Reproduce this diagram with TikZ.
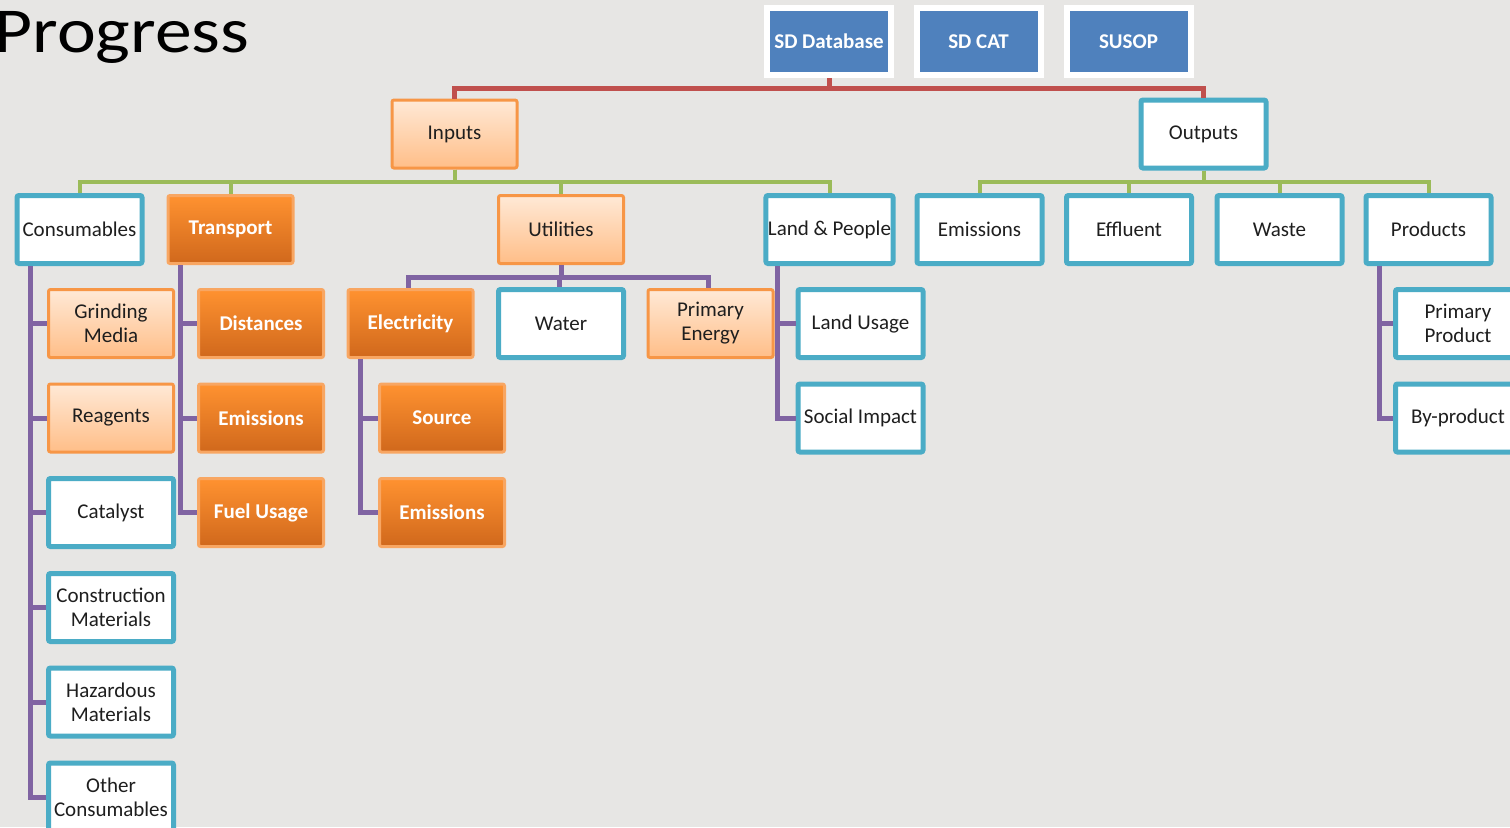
\documentclass[tikz,border=0pt]{standalone}
\usepackage{fontspec}
\setmainfont{Carlito}
\usetikzlibrary{positioning}

\definecolor{bgGray}{RGB}{231,230,228}
\definecolor{aquaLine}{RGB}{75,172,198}
\definecolor{orangeLine}{RGB}{247,150,70}
\definecolor{peachTop}{RGB}{255,233,214}
\definecolor{peachBot}{RGB}{255,190,136}
\definecolor{darkTop}{RGB}{255,146,48}
\definecolor{darkBot}{RGB}{208,104,28}
\definecolor{blueFill}{RGB}{79,129,189}
\definecolor{redLine}{RGB}{192,80,77}
\definecolor{greenLine}{RGB}{155,187,89}
\definecolor{purpleLine}{RGB}{128,100,162}
\definecolor{boxText}{RGB}{30,30,30}

\tikzset{
  box/.style={minimum width=62.5pt, minimum height=34pt, inner sep=1pt, align=center,
    font=\fontsize{10.5}{12}\selectfont, text=boxText, rounded corners=1pt},
  aquabox/.style={box, draw=aquaLine, line width=2.5pt, fill=white},
  peachbox/.style={box, draw=orangeLine, line width=1.5pt, top color=peachTop, bottom color=peachBot},
  darkbox/.style={box, draw=orangeLine!85!white, line width=1.5pt, top color=darkTop, bottom color=darkBot,
    text=white, font=\fontsize{10.5}{12}\selectfont\bfseries},
  topbox/.style={box, minimum width=62pt, minimum height=33.5pt, draw=white, line width=3pt,
    fill=blueFill, text=white, font=\fontsize{10.5}{12}\selectfont\bfseries, rounded corners=0pt},
  redline/.style={draw=redLine, line width=2.5pt},
  greenline/.style={draw=greenLine, line width=2pt},
  purpleline/.style={draw=purpleLine, line width=2.5pt}
}

\begin{document}
\begin{tikzpicture}[x=0.5pt,y=-0.5pt]
                \useasboundingbox (0,0) rectangle (1510,827);
                \clip (0,0) rectangle (1510,827);
                \fill[bgGray] (0,0) rectangle (1510,827);

                %Title
                \node[anchor=base west, inner sep=0, xscale=1.15, transform shape,
                      font=\fontsize{32}{34}\selectfont] at (-6,52) (TTL) {Progress};

                %Nodes
                \node[topbox] at (829,41.5)    (SDD)  {SD Database};
                \node[topbox] at (978.5,41.5)  (SDC)  {SD CAT};
                \node[topbox] at (1128.5,41.5) (SUS)  {SUSOP};

                \node[peachbox] at (454.5,134)  (IN)  {Inputs};
                \node[aquabox]  at (1203.5,134) (OUT) {Outputs};

                \node[aquabox]  at (79.5,229.5)   (CON) {Consumables};
                \node[darkbox]  at (230.5,229.5)  (TRA) {Transport};
                \node[peachbox] at (561,229.5)    (UTI) {Utilities};
                \node[aquabox]  at (829.5,229.5)  (LAP) {Land \& People};
                \node[aquabox]  at (979.5,229.5)  (EMI) {Emissions};
                \node[aquabox]  at (1129,229.5)   (EFF) {Effluent};
                \node[aquabox]  at (1279.5,229.5) (WAS) {Waste};
                \node[aquabox]  at (1428.5,229.5) (PRO) {Products};

                \node[peachbox] at (111,323.5)   (GM)  {Grinding\\Media};
                \node[darkbox]  at (261,323.5)   (DIS) {Distances};
                \node[darkbox]  at (410.5,323.5) (ELE) {Electricity};
                \node[aquabox]  at (561,323.5)   (WAT) {Water};
                \node[peachbox] at (710.5,323.5) (PE)  {Primary\\Energy};
                \node[aquabox]  at (860.5,323.5) (LU)  {Land Usage};
                \node[aquabox]  at (1458,323.5)  (PP)  {Primary\\Product};

                \node[peachbox] at (111,418)   (REA) {Reagents};
                \node[darkbox]  at (261,418)   (TEM) {Emissions};
                \node[darkbox]  at (442,418)   (SRC) {Source};
                \node[aquabox]  at (860.5,418) (SI)  {Social Impact};
                \node[aquabox]  at (1458,418)  (BP)  {By-product};

                \node[aquabox] at (111,512.5) (CATA) {Catalyst};
                \node[darkbox] at (261,512.5) (FU)   {Fuel Usage};
                \node[darkbox] at (442,512.5) (EEM)  {Emissions};

                \node[aquabox] at (111,607.5) (CM) {Construction\\Materials};
                \node[aquabox] at (111,702)   (HM) {Hazardous\\Materials};
                \node[aquabox] at (111,797)   (OC) {Other\\Consumables};

                %Lines
                \draw[redline] (SDD.south) -- ++(0,10) -| (IN.north);
                \draw[redline] (SDD.south) -- ++(0,10) -| (OUT.north);

                \foreach \k in {CON,TRA,UTI,LAP}
                    \draw[greenline] (IN.south) -- ++(0,12.5) -| (\k.north);
                \foreach \k in {EMI,EFF,WAS,PRO}
                    \draw[greenline] (OUT.south) -- ++(0,11) -| (\k.north);

                \foreach \k in {ELE,WAT,PE}
                    \draw[purpleline] (UTI.south) -- ++(0,12) -| ([xshift=-1pt]\k.north);

                \foreach \k in {GM,REA,CATA,CM,HM,OC}
                    \draw[purpleline] ([xshift=8pt]CON.south west) |- (\k.west);
                \foreach \k in {DIS,TEM,FU}
                    \draw[purpleline] ([xshift=7pt]TRA.south west) |- (\k.west);
                \foreach \k in {SRC,EEM}
                    \draw[purpleline] ([xshift=7pt]ELE.south west) |- (\k.west);
                \foreach \k in {LU,SI}
                    \draw[purpleline] ([xshift=7pt]LAP.south west) |- (\k.west);
                \foreach \k in {PP,BP}
                    \draw[purpleline] ([xshift=8pt]PRO.south west) |- (\k.west);
\end{tikzpicture}
\end{document}
